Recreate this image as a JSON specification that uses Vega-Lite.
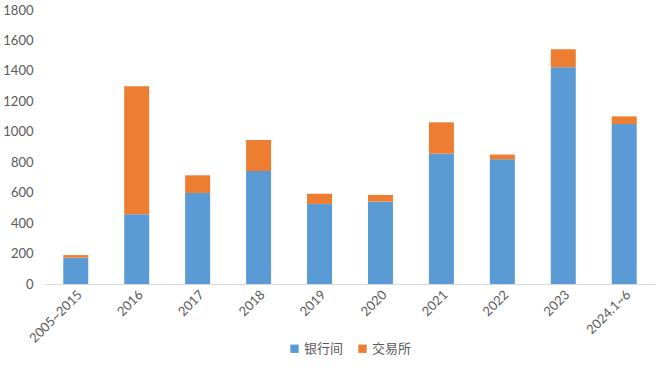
{
  "$schema": "https://vega.github.io/schema/vega-lite/v6.json",
  "width": 610,
  "height": 274,
  "autosize": {"type": "none"},
  "padding": {"left": 45, "top": 10, "right": 5, "bottom": 84},
  "background": "white",
  "config": {
    "view": {"stroke": null},
    "font": "Lato",
    "axis": {"labelColor": "#595959", "labelFont": "Lato", "labelFontSize": 13, "title": null, "grid": false, "ticks": false},
    "legend": {"labelFont": "Noto Sans CJK SC", "labelFontSize": 13, "labelColor": "#595959"}
  },
  "data": {
    "values": [
      {"cat": "2005~2015", "type": "银行间", "value": 173},
      {"cat": "2005~2015", "type": "交易所", "value": 17},
      {"cat": "2016", "type": "银行间", "value": 458},
      {"cat": "2016", "type": "交易所", "value": 841},
      {"cat": "2017", "type": "银行间", "value": 598},
      {"cat": "2017", "type": "交易所", "value": 116},
      {"cat": "2018", "type": "银行间", "value": 742},
      {"cat": "2018", "type": "交易所", "value": 204},
      {"cat": "2019", "type": "银行间", "value": 526},
      {"cat": "2019", "type": "交易所", "value": 67},
      {"cat": "2020", "type": "银行间", "value": 541},
      {"cat": "2020", "type": "交易所", "value": 44},
      {"cat": "2021", "type": "银行间", "value": 856},
      {"cat": "2021", "type": "交易所", "value": 206},
      {"cat": "2022", "type": "银行间", "value": 819},
      {"cat": "2022", "type": "交易所", "value": 31},
      {"cat": "2023", "type": "银行间", "value": 1424},
      {"cat": "2023", "type": "交易所", "value": 118},
      {"cat": "2024.1~6", "type": "银行间", "value": 1051},
      {"cat": "2024.1~6", "type": "交易所", "value": 50}
    ]
  },
  "mark": {"type": "bar"},
  "encoding": {
    "x": {
      "field": "cat",
      "type": "nominal",
      "sort": null,
      "scale": {"paddingInner": 0.59, "paddingOuter": 0.3},
      "axis": {"labelAngle": -45, "domainColor": "#D9D9D9", "labelPadding": 4}
    },
    "y": {
      "field": "value",
      "type": "quantitative",
      "aggregate": "sum",
      "scale": {"domain": [0, 1800], "nice": false},
      "axis": {"values": [0, 200, 400, 600, 800, 1000, 1200, 1400, 1600, 1800], "format": "d", "domain": false, "labelPadding": 12}
    },
    "color": {
      "field": "type",
      "type": "nominal",
      "scale": {"domain": ["银行间", "交易所"], "range": ["#5B9BD5", "#ED7D31"]},
      "legend": {"orient": "none", "legendX": 243, "legendY": 332, "direction": "horizontal", "title": null, "symbolType": "square", "symbolSize": 70, "columnPadding": 12, "labelOffset": 3}
    },
    "order": {"field": "type", "sort": "descending"}
  }
}
